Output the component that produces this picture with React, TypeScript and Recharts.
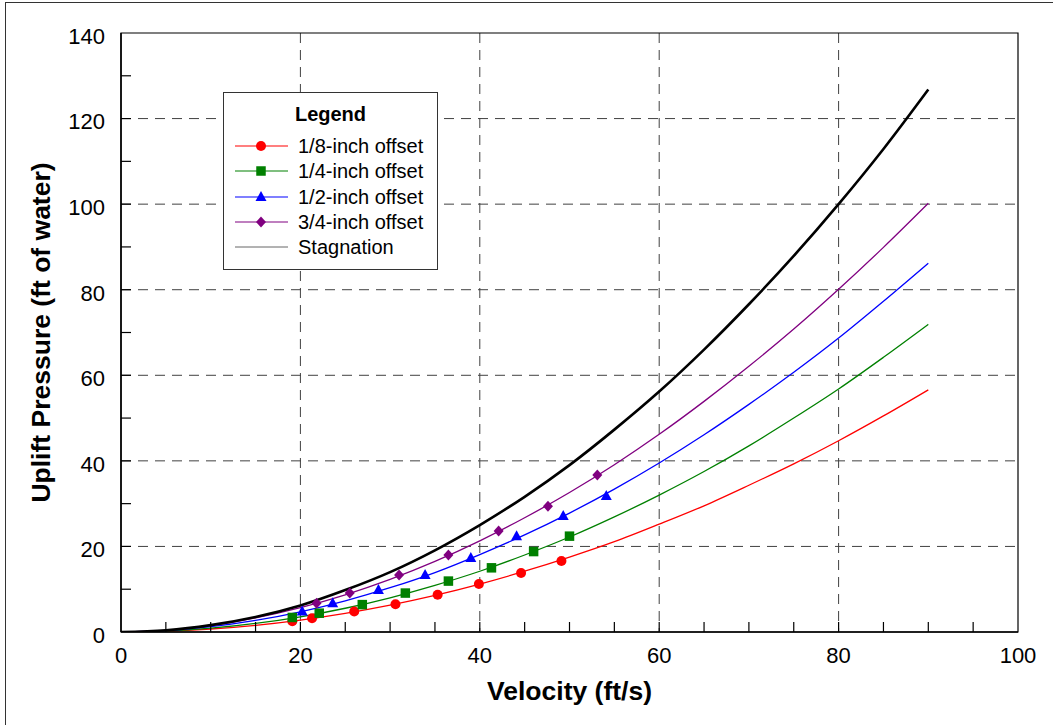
import React from 'react';
import {
  ComposedChart,
  Line,
  Scatter,
  XAxis,
  YAxis,
  CartesianGrid,
  ReferenceArea,
} from 'recharts';

// curve samples (ft/s -> ft of water)
const velocity = [0, 5, 10, 15, 20, 25, 30, 35, 40, 45, 50, 55, 60, 65, 70, 75, 80, 85, 90];
const stagnation = [0, 0.4, 1.6, 3.5, 6.2, 9.8, 14.0, 19.1, 25.0, 31.6, 39.0, 47.3, 56.2, 66.0, 76.6, 87.9, 100.0, 112.9, 126.8];
const offset34 = [0, 0.4, 1.5, 3.3, 5.7, 8.7, 12.3, 16.5, 21.3, 26.7, 32.6, 39.1, 46.2, 53.9, 62.1, 70.8, 80.1, 89.9, 100.2];
const offset12 = [0, 0.33, 1.24, 2.72, 4.73, 7.29, 10.35, 13.9, 18.1, 22.7, 27.8, 33.4, 39.5, 46.1, 53.2, 60.7, 68.7, 77.3, 86.2];
const offset14 = [0, 0.22, 0.89, 2.0, 3.55, 5.55, 8.0, 10.9, 14.2, 18.0, 22.2, 26.9, 32.0, 37.5, 43.5, 50.0, 56.8, 64.2, 71.9];
const offset18 = [0, 0.17, 0.7, 1.57, 2.8, 4.37, 6.29, 8.56, 11.2, 14.2, 17.5, 21.1, 25.2, 29.5, 34.3, 39.3, 44.7, 50.5, 56.6];

// measured points (markers)
const pts18V = [19.1, 21.3, 26.0, 30.6, 35.3, 39.9, 44.6, 49.1];
const pts18P = [2.5, 3.2, 4.8, 6.5, 8.7, 11.2, 13.8, 16.6];
const pts14V = [19.1, 22.1, 26.9, 31.7, 36.5, 41.3, 46.0, 50.0];
const pts14P = [3.4, 4.4, 6.4, 9.1, 11.9, 15.0, 18.8, 22.4];
const pts12V = [20.2, 23.6, 28.7, 33.9, 39.0, 44.1, 49.3, 54.1];
const pts12P = [4.8, 6.7, 9.8, 13.3, 17.3, 22.4, 27.1, 31.8];
const pts34V = [21.8, 25.5, 31.0, 36.5, 42.1, 47.6, 53.1];
const pts34P = [6.7, 9.1, 13.3, 18.0, 23.6, 29.4, 36.7];

const xTicks = [0, 5, 10, 15, 20, 25, 30, 35, 40, 45, 50, 55, 60, 65, 70, 75, 80, 85, 90, 95, 100];
const yTicks = [0, 10, 20, 30, 40, 50, 60, 70, 80, 90, 100, 110, 120, 130, 140];
const legendLabels = ['1/8-inch offset', '1/4-inch offset', '1/2-inch offset', '3/4-inch offset', 'Stagnation'];

const FONT = 'Arial, "Liberation Sans", Helvetica, sans-serif';
const RED = '#FF0000';
const GREEN = '#008000';
const BLUE = '#0000FF';
const PURPLE = '#800080';

const toLine = (vals: number[]) => velocity.map((x, i) => ({ x, y: vals[i] }));
const toPts = (xs: number[], ys: number[]) => xs.map((x, i) => ({ x, y: ys[i] }));

function Marker({ kind, cx, cy }: { kind: string; cx: number; cy: number }) {
  if (kind === 'circle') return <circle cx={cx} cy={cy} r={5} fill={RED} />;
  if (kind === 'square') return <rect x={cx - 4.75} y={cy - 4.75} width={9.5} height={9.5} fill={GREEN} />;
  if (kind === 'triangle')
    return <polygon points={`${cx},${cy - 6} ${cx - 5.5},${cy + 4} ${cx + 5.5},${cy + 4}`} fill={BLUE} />;
  if (kind === 'diamond')
    return <polygon points={`${cx},${cy - 5.5} ${cx + 5},${cy} ${cx},${cy + 5.5} ${cx - 5},${cy}`} fill={PURPLE} />;
  return null;
}

const XTick = (props: any) => {
  const { x, y, payload } = props;
  const v = payload.value;
  return (
    <g>
      {v > 0 && v < 100 && <line x1={x} y1={y} x2={x} y2={y - 10} stroke="#000" strokeWidth={1.2} />}
      {v % 20 === 0 && (
        <text x={x} y={y + 15} dy="0.71em" textAnchor="middle" fontSize={22} fontFamily={FONT} fill="#000">
          {v}
        </text>
      )}
    </g>
  );
};

const YTick = (props: any) => {
  const { x, y, payload } = props;
  const v = payload.value;
  return (
    <g>
      {v > 0 && v < 140 && <line x1={x} y1={y} x2={x + 10} y2={y} stroke="#000" strokeWidth={1.2} />}
      {v % 20 === 0 && (
        <text x={x - 16} y={y + 3} dy="0.355em" textAnchor="end" fontSize={22} fontFamily={FONT} fill="#000">
          {v}
        </text>
      )}
    </g>
  );
};

function LegendBox() {
  const kinds = ['circle', 'square', 'triangle', 'diamond', ''];
  const colors = [RED, GREEN, BLUE, PURPLE, '#000'];
  const rowTops = [53, 78, 104, 129, 154];
  return (
    <div
      style={{
        position: 'absolute',
        left: 223,
        top: 92,
        width: 213,
        height: 176,
        border: '1px solid #333',
        background: '#fff',
        fontFamily: FONT,
      }}
    >
      <div
        style={{
          position: 'absolute',
          left: 0,
          width: '100%',
          top: 9,
          textAlign: 'center',
          fontWeight: 'bold',
          fontSize: 20,
          lineHeight: '24px',
        }}
      >
        Legend
      </div>
      {legendLabels.map((label, i) => (
        <div
          key={label}
          style={{ position: 'absolute', left: 0, top: rowTops[i] - 12, height: 24, display: 'flex', alignItems: 'center' }}
        >
          <svg width={74} height={24} style={{ display: 'block' }}>
            <line x1={11} y1={12} x2={64} y2={12} stroke={colors[i]} strokeWidth={i === 4 ? 1 : 1.2} strokeOpacity={i === 4 ? 0.6 : 1} />
            <Marker kind={kinds[i]} cx={37} cy={12} />
          </svg>
          <span style={{ fontSize: 20, lineHeight: '24px', whiteSpace: 'nowrap' }}>{label}</span>
        </div>
      ))}
    </div>
  );
}

export default function App() {
  return (
    <div
      style={{
        position: 'absolute',
        left: 0,
        top: 0,
        width: 1053,
        height: 725,
        background: '#fff',
        overflow: 'hidden',
      }}
    >
      <div
        style={{
          position: 'absolute',
          left: 5,
          top: 2,
          width: 1060,
          height: 740,
          borderLeft: '1.5px solid #333',
          borderTop: '1.5px solid #333',
        }}
      />
      <ComposedChart width={1053} height={725} margin={{ top: 33, right: 35, left: 0, bottom: 33 }}>
        <CartesianGrid
          horizontalValues={[20, 40, 60, 80, 100, 120]}
          verticalValues={[20, 40, 60, 80]}
          stroke="#404040"
          strokeDasharray="10 7"
        />
        <XAxis
          type="number"
          dataKey="x"
          domain={[0, 100]}
          ticks={xTicks}
          interval={0}
          height={60}
          tickSize={0}
          tickMargin={0}
          tickLine={false}
          axisLine={{ stroke: '#000', strokeWidth: 1.5 }}
          tick={<XTick />}
          allowDataOverflow
          label={{
            content: (p: any) => (
              <text
                x={p.viewBox.x + p.viewBox.width / 2}
                y={p.viewBox.y + 68}
                textAnchor="middle"
                fontSize={26.5}
                fontWeight="bold"
                fontFamily={FONT}
                fill="#000"
              >
                Velocity (ft/s)
              </text>
            ),
          }}
        />
        <YAxis
          type="number"
          dataKey="y"
          domain={[0, 140]}
          ticks={yTicks}
          interval={0}
          width={121}
          tickSize={0}
          tickMargin={0}
          tickLine={false}
          axisLine={{ stroke: '#000', strokeWidth: 1.5 }}
          tick={<YTick />}
          allowDataOverflow
          label={{
            content: (p: any) => {
              const cx = p.viewBox.x + 50;
              const cy = p.viewBox.y + p.viewBox.height / 2;
              return (
                <text
                  x={cx}
                  y={cy}
                  transform={`rotate(-90 ${cx} ${cy})`}
                  textAnchor="middle"
                  fontSize={26.5}
                  fontWeight="bold"
                  fontFamily={FONT}
                  fill="#000"
                >
                  Uplift Pressure (ft of water)
                </text>
              );
            },
          }}
        />
        <ReferenceArea x1={0} x2={100} y1={0} y2={140} fill="none" stroke="#000" strokeWidth={1.2} />
        <Line data={toLine(offset18)} dataKey="y" type="monotone" stroke={RED} strokeWidth={1.3} dot={false} isAnimationActive={false} />
        <Line data={toLine(offset14)} dataKey="y" type="monotone" stroke={GREEN} strokeWidth={1.3} dot={false} isAnimationActive={false} />
        <Line data={toLine(offset12)} dataKey="y" type="monotone" stroke={BLUE} strokeWidth={1.3} dot={false} isAnimationActive={false} />
        <Line data={toLine(offset34)} dataKey="y" type="monotone" stroke={PURPLE} strokeWidth={1.3} dot={false} isAnimationActive={false} />
        <Line data={toLine(stagnation)} dataKey="y" type="monotone" stroke="#000" strokeWidth={2.6} dot={false} isAnimationActive={false} />
        <Scatter data={toPts(pts18V, pts18P)} isAnimationActive={false} shape={(p: any) => <Marker kind="circle" cx={p.cx} cy={p.cy} />} />
        <Scatter data={toPts(pts14V, pts14P)} isAnimationActive={false} shape={(p: any) => <Marker kind="square" cx={p.cx} cy={p.cy} />} />
        <Scatter data={toPts(pts12V, pts12P)} isAnimationActive={false} shape={(p: any) => <Marker kind="triangle" cx={p.cx} cy={p.cy} />} />
        <Scatter data={toPts(pts34V, pts34P)} isAnimationActive={false} shape={(p: any) => <Marker kind="diamond" cx={p.cx} cy={p.cy} />} />
      </ComposedChart>
      <LegendBox />
    </div>
  );
}
